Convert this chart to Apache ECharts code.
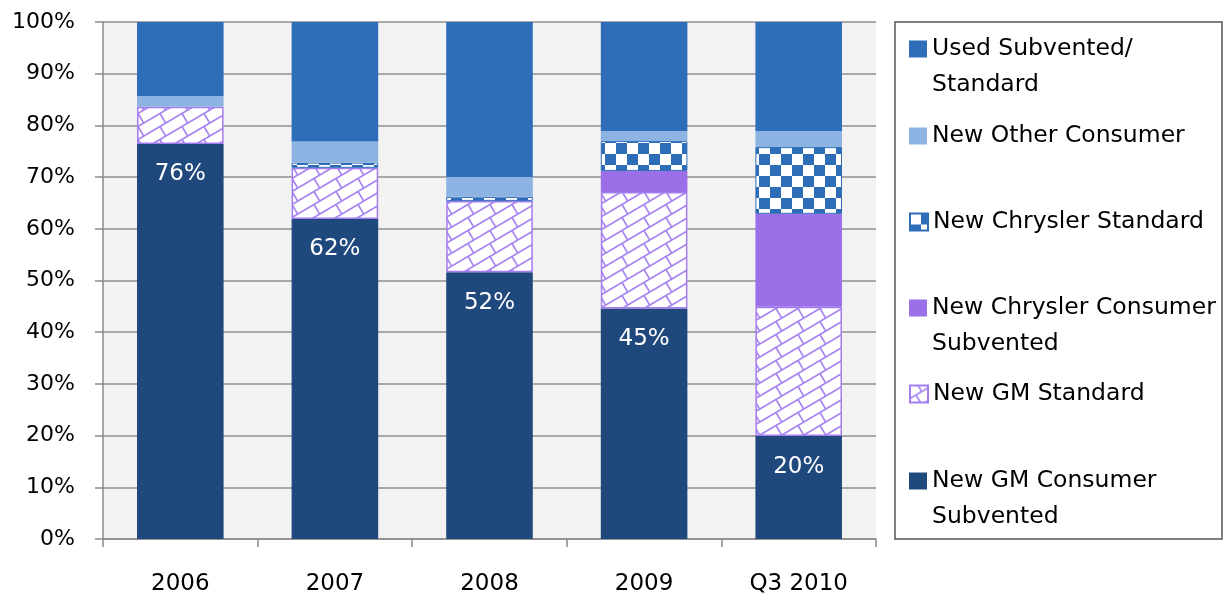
<!DOCTYPE html>
<html>
<head>
<meta charset="utf-8">
<script src="https://cdn.jsdelivr.net/npm/echarts@6/dist/echarts.min.js"></script>
<style>
  html, body { margin: 0; padding: 0; background: #fff; }
  #chart { width: 1225px; height: 599px; }
</style>
</head>
<body>
<div id="chart"></div>
<script>
// categories + shares (%), bottom of stack first
var years = ['2006', '2007', '2008', '2009', 'Q3 2010'];
var gmConsumer = [76.4, 61.9, 51.6, 44.6, 19.9];
var gmStandard = [7.2, 9.9, 13.8, 22.5, 25.0];
var chryslerConsumer = [0, 0, 0, 4.1, 18.0];
var chryslerStandard = [0, 1.0, 0.8, 5.8, 12.9];
var otherConsumer = [2.1, 4.1, 3.8, 1.9, 3.1];
var usedStandard = [14.3, 23.1, 30.0, 21.1, 21.1];
var yTicks = [0, 10, 20, 30, 40, 50, 60, 70, 80, 90, 100];

var FONT = 'DejaVu Sans';

// diagonal brick pattern (New GM Standard)
function brickPattern() {
    var w = 22, h = 13;
    var c = document.createElement('canvas');
    c.width = w; c.height = h;
    var ctx = c.getContext('2d');
    ctx.fillStyle = '#ffffff';
    ctx.fillRect(0, 0, w, h);
    ctx.strokeStyle = '#a884f0';
    ctx.lineWidth = 1.7;
    var s = h / w;
    for (var k = -1; k <= 1; k++) {
        ctx.beginPath();
        ctx.moveTo(-5, h + h * k + 5 * s);
        ctx.lineTo(w + 5, h + h * k - (w + 5) * s);
        ctx.stroke();
        ctx.beginPath();
        ctx.moveTo(6, 9.45 + h * k);
        ctx.lineTo(11.69, 19.09 + h * k);
        ctx.stroke();
    }
    return c;
}

// checkerboard (New Chrysler Standard)
function checkerPattern() {
    var n = 11;
    var c = document.createElement('canvas');
    c.width = n * 2; c.height = n * 2;
    var ctx = c.getContext('2d');
    ctx.fillStyle = '#ffffff';
    ctx.fillRect(0, 0, n * 2, n * 2);
    ctx.fillStyle = '#2e6db8';
    ctx.fillRect(n, 0, n, n);
    ctx.fillRect(0, n, n, n);
    return c;
}

function noZero(arr) {
    return arr.map(function (v) { return v === 0 ? null : v; });
}

var chart = echarts.init(document.getElementById('chart'));

var names = [
    'Used Subvented/ Standard',
    'New Other Consumer',
    'New Chrysler Standard',
    'New Chrysler Consumer Subvented',
    'New GM Standard',
    'New GM Consumer Subvented'
];
// legend text lines, first line sits next to the icon
var legendLines = {
    'Used Subvented/ Standard': ['Used Subvented/', 'Standard'],
    'New Other Consumer': ['New Other Consumer'],
    'New Chrysler Standard': ['New Chrysler Standard'],
    'New Chrysler Consumer Subvented': ['New Chrysler Consumer', 'Subvented'],
    'New GM Standard': ['New GM Standard'],
    'New GM Consumer Subvented': ['New GM Consumer', 'Subvented']
};
var legendTop = [1, 124, 210, 260, 382, 433];

var legends = names.map(function (nm, i) {
    return {
        data: [nm],
        orient: 'vertical',
        left: 909,
        top: legendTop[i],
        padding: 0,
        icon: 'rect',
        itemWidth: 18,
        itemHeight: 17,
        selectedMode: false,
        formatter: function (name) {
            var l = legendLines[name];
            if (l.length === 1) return '{a|' + l[0] + '}';
            return '{a| }\n{a|' + l[0] + '}\n{a|' + l[1] + '}';
        },
        textStyle: {
            fontFamily: FONT,
            fontSize: 23,
            color: '#000',
            rich: { a: { fontFamily: FONT, fontSize: 23.5, lineHeight: 36, color: '#000' } }
        }
    };
});

var bar = function (name, data, style) {
    return {
        name: name,
        type: 'bar',
        stack: 'total',
        barWidth: '56%',
        data: data,
        itemStyle: style
    };
};

var option = {
    animation: false,
    backgroundColor: '#ffffff',
    legend: legends,
    grid: {
        left: 103,
        right: 349,
        top: 22,
        bottom: 60,
        show: true,
        backgroundColor: '#f2f2f2',
        borderWidth: 0
    },
    graphic: [{
        type: 'rect',
        shape: { x: 895, y: 22, width: 327, height: 517 },
        style: { fill: 'none', stroke: '#555555', lineWidth: 1.5 },
        silent: true
    }],
    xAxis: {
        type: 'category',
        data: years,
        axisLine: { lineStyle: { color: '#8a8a8a', width: 1.5 } },
        axisTick: { show: true, length: 8, lineStyle: { color: '#8a8a8a', width: 1.5 } },
        axisLabel: { color: '#000', fontFamily: FONT, fontSize: 23, margin: 34 }
    },
    yAxis: {
        type: 'value',
        min: yTicks[0],
        max: yTicks[yTicks.length - 1],
        interval: 10,
        axisLine: { show: true, lineStyle: { color: '#8a8a8a', width: 1.5 } },
        axisTick: { show: true, length: 8, lineStyle: { color: '#8a8a8a', width: 1.5 } },
        splitLine: { lineStyle: { color: '#8f8f8f', width: 1.5 } },
        axisLabel: { color: '#000', fontFamily: FONT, fontSize: 22, margin: 28, formatter: '{value}%' }
    },
    series: [
        {
            name: 'New GM Consumer Subvented',
            type: 'bar',
            stack: 'total',
            barWidth: '56%',
            data: gmConsumer,
            itemStyle: { color: '#1f497d' },
            label: {
                show: true,
                position: 'insideTop',
                distance: 19,
                color: '#ffffff',
                fontFamily: FONT,
                fontSize: 23,
                formatter: function (p) { return Math.round(p.value) + '%'; }
            }
        },
        bar('New GM Standard', noZero(gmStandard), {
            color: { image: brickPattern(), repeat: 'repeat' },
            borderColor: '#a37cf0',
            borderWidth: 1.5
        }),
        bar('New Chrysler Consumer Subvented', noZero(chryslerConsumer), { color: '#9b6fe8' }),
        bar('New Chrysler Standard', noZero(chryslerStandard), {
            color: { image: checkerPattern(), repeat: 'repeat' },
            borderColor: '#2e6db8',
            borderWidth: 1
        }),
        bar('New Other Consumer', noZero(otherConsumer), { color: '#8db3e2' }),
        bar('Used Subvented/ Standard', noZero(usedStandard), { color: '#2e6db8' })
    ]
};

chart.setOption(option);
</script>
</body>
</html>
